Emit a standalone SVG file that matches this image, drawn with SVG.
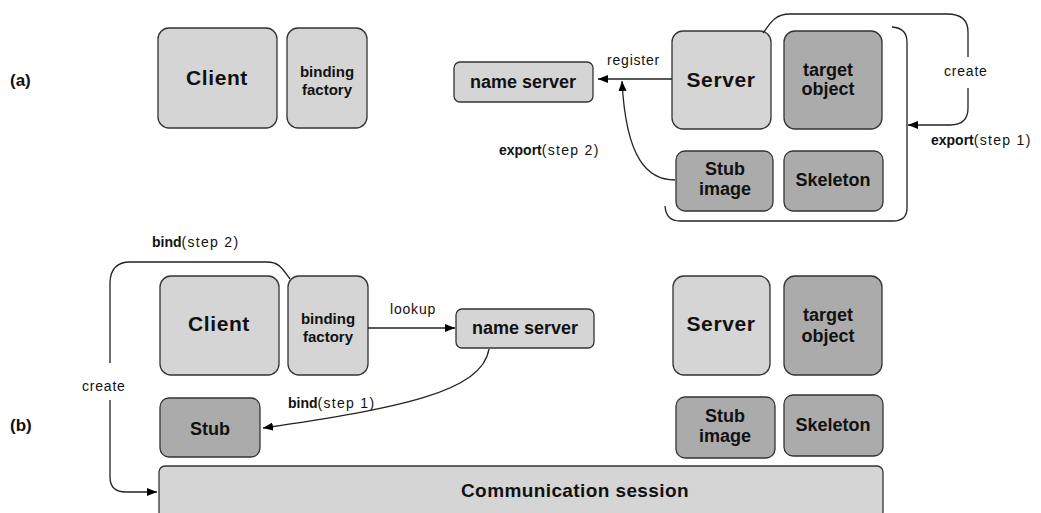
<svg xmlns="http://www.w3.org/2000/svg" width="1041" height="513" viewBox="0 0 1041 513">
<style>
text{font-family:"Liberation Sans",Arial,sans-serif;fill:#111}
.lt{fill:#d5d5d5;stroke:#333;stroke-width:1.3}
.dk{fill:#ababab;stroke:#333;stroke-width:1.3}
.big{font-size:21px;font-weight:bold;text-anchor:middle;letter-spacing:0.6px}
.mid{font-size:18px;font-weight:bold;text-anchor:middle}
.sm{font-size:15px;font-weight:bold;text-anchor:middle}
.lbl{font-size:14px;letter-spacing:0.8px}
.stp{letter-spacing:1.3px}
.tag{font-size:17px;font-weight:bold}
.con{fill:none;stroke:#222;stroke-width:1.3}
.ar{marker-end:url(#ah)}
</style>
<defs>
<marker id="ah" markerUnits="userSpaceOnUse" markerWidth="12" markerHeight="10" refX="10" refY="4" orient="auto">
<path d="M0,0 L10,4 L0,8 Z" fill="#000"/>
</marker>
</defs>

<text class="tag" x="10" y="86">(a)</text>
<text class="tag" x="10" y="431">(b)</text>

<g id="a-client"><rect class="lt" x="158" y="28" width="119" height="100" rx="11"/><text class="big" x="217" y="85">Client</text></g>
<g id="a-binding"><rect class="lt" x="287" y="28" width="80" height="100" rx="11"/><text class="sm" x="327" y="77">binding</text><text class="sm" x="327" y="95">factory</text></g>
<g id="a-nameserver"><rect class="lt" x="454" y="62" width="139" height="40" rx="6"/><text class="mid" x="523" y="88">name server</text></g>
<g id="a-server"><rect class="lt" x="672" y="31" width="99" height="98" rx="11"/><text class="big" x="721" y="87">Server</text></g>
<g id="a-target"><rect class="dk" x="784" y="31" width="98" height="98" rx="11"/><text class="mid" x="828" y="76">target</text><text class="mid" x="828" y="95">object</text></g>
<g id="a-stubimage"><rect class="dk" x="676" y="151" width="97" height="60" rx="9"/><text class="mid" x="725" y="175">Stub</text><text class="mid" x="725" y="195">image</text></g>
<g id="a-skeleton"><rect class="dk" x="784" y="151" width="99" height="60" rx="9"/><text class="mid" x="833" y="186">Skeleton</text></g>

<g id="b-client"><rect class="lt" x="160" y="276" width="119" height="99" rx="11"/><text class="big" x="219" y="331">Client</text></g>
<g id="b-binding"><rect class="lt" x="288" y="276" width="80" height="99" rx="11"/><text class="sm" x="328" y="324">binding</text><text class="sm" x="328" y="342">factory</text></g>
<g id="b-nameserver"><rect class="lt" x="456" y="309" width="138" height="39" rx="6"/><text class="mid" x="525" y="334">name server</text></g>
<g id="b-stub"><rect class="dk" x="160" y="398" width="100" height="59" rx="9"/><text class="mid" x="210" y="435">Stub</text></g>
<g id="b-server"><rect class="lt" x="673" y="276" width="97" height="99" rx="11"/><text class="big" x="721" y="331">Server</text></g>
<g id="b-target"><rect class="dk" x="784" y="276" width="98" height="99" rx="11"/><text class="mid" x="828" y="321">target</text><text class="mid" x="828" y="342">object</text></g>
<g id="b-stubimage"><rect class="dk" x="676" y="397" width="99" height="61" rx="9"/><text class="mid" x="725" y="422">Stub</text><text class="mid" x="725" y="442">image</text></g>
<g id="b-skeleton"><rect class="dk" x="784" y="395" width="99" height="61" rx="9"/><text class="mid" x="833" y="431">Skeleton</text></g>
<g id="b-comm"><rect class="lt" x="159" y="466" width="724" height="52" rx="6"/><text class="big" x="575" y="497" style="font-size:19px;letter-spacing:0.4px">Communication session</text></g>

<g id="connectors">
<path class="con ar" d="M672,79 L598,79"/>
<text class="lbl" x="607" y="65">register</text>
<path class="con ar" d="M675,180 C648,180 626,160 622,81"/>
<text class="lbl" x="499" y="155"><tspan font-weight="bold" letter-spacing="0">export</tspan><tspan class="stp">(step 2)</tspan></text>
<path class="con" d="M763,33 C770,24 774,14 790,14 L947,14 Q968,14 968,32 L968,57"/>
<path class="con ar" d="M968,88 L968,108 Q968,125 950,125 L908,125"/>
<text class="lbl" x="944" y="76">create</text>
<path class="con" d="M892,27 Q907,28 907,42 L907,208 Q907,221 893,221 L680,221 Q666,221 665,206"/>
<text class="lbl" x="931" y="145"><tspan font-weight="bold" letter-spacing="0">export</tspan><tspan class="stp">(step 1)</tspan></text>

<path class="con" d="M290,279 C283,270 280,262 267,262 L130,262 Q111,262 110,282 L110,363"/>
<path class="con ar" d="M110,400 L110,477 Q110,492 126,492 L157,492"/>
<text class="lbl" x="152" y="247"><tspan font-weight="bold" letter-spacing="0">bind</tspan><tspan class="stp">(step 2)</tspan></text>
<text class="lbl" x="82" y="391">create</text>
<path class="con ar" d="M368,328 L455,328"/>
<text class="lbl" x="390" y="314">lookup</text>
<path class="con ar" d="M489,349 C482,392 400,408 263,428"/>
<text class="lbl" x="288" y="408"><tspan font-weight="bold" letter-spacing="0">bind</tspan><tspan class="stp">(step 1)</tspan></text>
</g>
</svg>
